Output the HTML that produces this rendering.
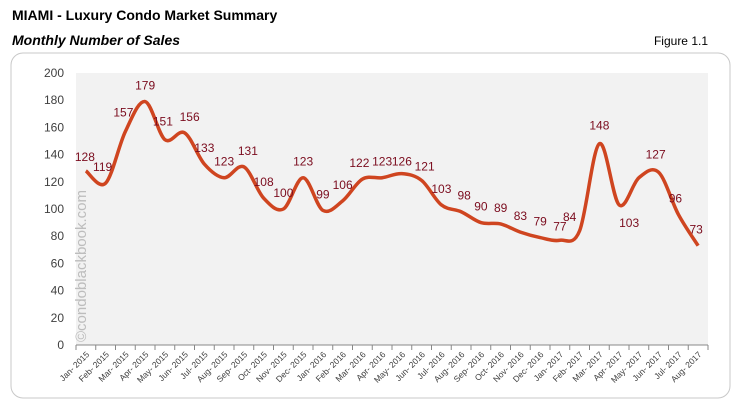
<!DOCTYPE html>
<html><head><meta charset="utf-8"><style>
body{margin:0;background:#fff;width:739px;height:409px;overflow:hidden;font-family:"Liberation Sans",Arial,sans-serif}
</style></head><body>
<svg width="739" height="409" xmlns="http://www.w3.org/2000/svg">
<text x="12" y="20" font-size="14" font-weight="bold" fill="#000">MIAMI - Luxury Condo Market Summary</text>
<text x="12" y="45" font-size="14" font-weight="bold" font-style="italic" fill="#000">Monthly Number of Sales</text>
<text x="708" y="45" font-size="12" text-anchor="end" fill="#000">Figure 1.1</text>
<rect x="11" y="53" width="719" height="345" rx="12" fill="#fff" stroke="#c8c8c8"/>
<rect x="76" y="73" width="632" height="272" fill="#f2f2f2"/>
<g id="yaxis"></g><g id="xaxis"></g>
<text transform="translate(86,342) rotate(-90)" font-size="15" fill="#bdbdbd">©condoblackbook.com</text>
<path id="line" fill="none" stroke="#cf4520" stroke-width="3.5" stroke-linejoin="round"/>
<g id="labels"></g>
</svg>
<script>
const categories=["Jan","Feb","Mar","Apr","May","Jun","Jul","Aug","Sep","Oct","Nov","Dec"];
const years=["2015","2016","2017"];
const values=[128,119,157,179,151,156,133,123,131,108,100,123,99,106,122,123,126,121,103,98,90,89,83,79,77,84,148,103,123,127,96,73];
const showLabel=[1,1,1,1,1,1,1,1,1,1,1,1,1,1,1,1,1,1,1,1,1,1,1,1,1,1,1,1,0,1,1,1];
const yTicks=[0,20,40,60,80,100,120,140,160,180,200];
const labelDx=[-1,-3,-2,0,-2,5,0,0,4,0,0,0,0,0,-3,0,0,3,0,3,0,0,0,0,0,-10,0,10,0,-3,-3,-2];
const labelDy=[-10,-12,-15,-12,-14,-12,-12,-12,-12,-12,-12,-12,-12,-12,-12,-12,-8,-10,-12,-12,-12,-12,-12,-12,-10,-10,-14,22,-12,-14,-12,-12];
const NS="http://www.w3.org/2000/svg";
const x0=76,w=632,y0=345,h=272,n=values.length,step=w/n;
const X=i=>x0+step*(i+0.5), Y=v=>y0-v/200*h;
const ya=document.getElementById('yaxis');
yTicks.forEach(t=>{const e=document.createElementNS(NS,'text');


e.setAttribute('x',64);e.setAttribute('y',Y(t)+4);e.setAttribute('text-anchor','end');e.setAttribute('font-size','12');e.setAttribute('fill','#404040');e.textContent=t;ya.appendChild(e);});
const xa=document.getElementById('xaxis');
const ax=document.createElementNS(NS,'line');


ax.setAttribute('x1',x0);ax.setAttribute('x2',x0+w);ax.setAttribute('y1',y0);ax.setAttribute('y2',y0);ax.setAttribute('stroke','#888');xa.appendChild(ax);
for(let i=0;i<=n;i++){const t=document.createElementNS(NS,'line');


t.setAttribute('x1',x0+step*i);t.setAttribute('x2',x0+step*i);t.setAttribute('y1',y0);t.setAttribute('y2',y0+5);t.setAttribute('stroke','#888');xa.appendChild(t);}
for(let i=0;i<n;i++){const e=document.createElementNS(NS,'text');


const x=X(i)+4,y=y0+10;
e.setAttribute('transform',`translate(${x},${y}) rotate(-45)`);e.setAttribute('text-anchor','end');e.setAttribute('font-size','8.5');e.setAttribute('fill','#404040');
e.textContent=categories[i%12]+"- "+years[Math.floor(i/12)];xa.appendChild(e);}
const P=values.map((v,i)=>[X(i),Y(v)]);
let d=`M${P[0][0]},${P[0][1]}`;
for(let i=0;i<n-1;i++){const p0=P[Math.max(i-1,0)],p1=P[i],p2=P[i+1],p3=P[Math.min(i+2,n-1)];
const k=6;d+=` C${p1[0]+(p2[0]-p0[0])/k},${p1[1]+(p2[1]-p0[1])/k} ${p2[0]-(p3[0]-p1[0])/k},${p2[1]-(p3[1]-p1[1])/k} ${p2[0]},${p2[1]}`;}
document.getElementById('line').setAttribute('d',d);
const lg=document.getElementById('labels');
values.forEach((v,i)=>{if(!showLabel[i])return;const e=document.createElementNS(NS,'text');


e.setAttribute('x',X(i)+labelDx[i]);e.setAttribute('y',Y(v)+labelDy[i]);e.setAttribute('text-anchor','middle');e.setAttribute('font-size','12');e.setAttribute('fill','#7b0c1e');e.textContent=v;lg.appendChild(e);});
</script>
</body></html>
